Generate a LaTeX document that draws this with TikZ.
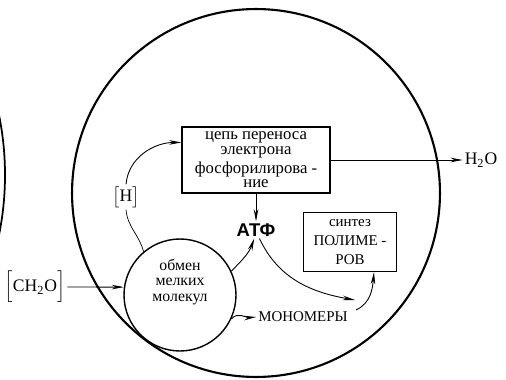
\documentclass[tikz,border=0pt]{standalone}
\usepackage{fontspec}
\setmainfont{Liberation Serif}
\setsansfont{Liberation Sans}
\usetikzlibrary{arrows.meta}

\begin{document}
\begin{tikzpicture}[x=0.02cm,y=0.02cm]
  % Define style for boxes, circles and arrows
  \tikzstyle{procbox} = [draw, rectangle, line width=0.7pt, align=center, inner sep=0pt, font=\fontsize{9.5}{8.3}\selectfont]
  \tikzstyle{lbl} = [align=center, inner sep=1pt, font=\fontsize{9}{8.6}\selectfont]
  \tikzstyle{flow} = [-{Stealth[length=7pt,width=2.6pt]}, line width=0.5pt]

  \useasboundingbox (0,0) rectangle (506,379);

  % Draw the cells
  \begin{scope}
    \clip (0,0) rectangle (506,379);
    \draw[line width=1pt] (-295,204) circle[radius=300];
  \end{scope}
  \node(cell)[draw, circle, line width=1.2pt, minimum size=7.36cm] at (256,186) {};
  \node(mol)[draw, circle, line width=0.8pt, minimum size=2.24cm] at (180,84) {};
  \node(molname)[lbl] at (180,97) {обмен\\мелких\\молекул};

  % Boxes and labels
  \node(chain)[procbox, minimum width=2.96cm, minimum height=1.32cm] at (256,219)
    {цепь переноса\\электрона\\[1pt]фосфорилирова -\\ние};
  \node(syn)[procbox, minimum width=1.86cm, minimum height=1.18cm,
    font=\fontsize{8.5}{11}\selectfont] at (350,137) {синтез\\ПОЛИМЕ -\\РОВ};
  \node(atp)[font=\sffamily\bfseries\fontsize{10.5}{10}\selectfont, inner sep=1pt] at (256,149) {АТФ};
  \node(mono)[font=\fontsize{8.5}{9}\selectfont, inner sep=1pt] at (303,62) {МОНОМЕРЫ};
  \node(ch2o)[inner sep=1pt] at (35,92) {$\Bigl[\mathrm{CH_2O}\Bigr]$};
  \node(hyd)[inner sep=1pt] at (126,182) {$\bigl[\mathrm{H}\bigr]$};
  \node(h2o)[inner sep=1pt] at (481,219) {$\mathrm{H_2O}$};
  \coordinate(atpend) at (355,79);
  \coordinate(mixin) at (356,69);

  % Arrows
  \draw[flow] (ch2o.east) -- (mol.172);
  \draw[flow] (chain.east) -- (h2o.west);
  \draw[flow] (chain.south) -- (atp.north);
  \draw (mol.130) to[out=105, in=-85] (hyd.south);
  \draw[flow] (hyd.north) to[out=85, in=180] ([yshift=10]chain.west);
  \draw[flow] (mol.25) to[out=45, in=-110] ([xshift=-1pt]atp.south);
  \draw[flow] ([xshift=2pt]atp.south) to[out=-65, in=170] (atpend);
  \draw[flow] (mixin) to[out=25, in=-95] ([xshift=0.48cm]syn.south);
  \draw[flow] (mol.-25) to[out=50, in=185] (mono.west);
\end{tikzpicture}
\end{document}
